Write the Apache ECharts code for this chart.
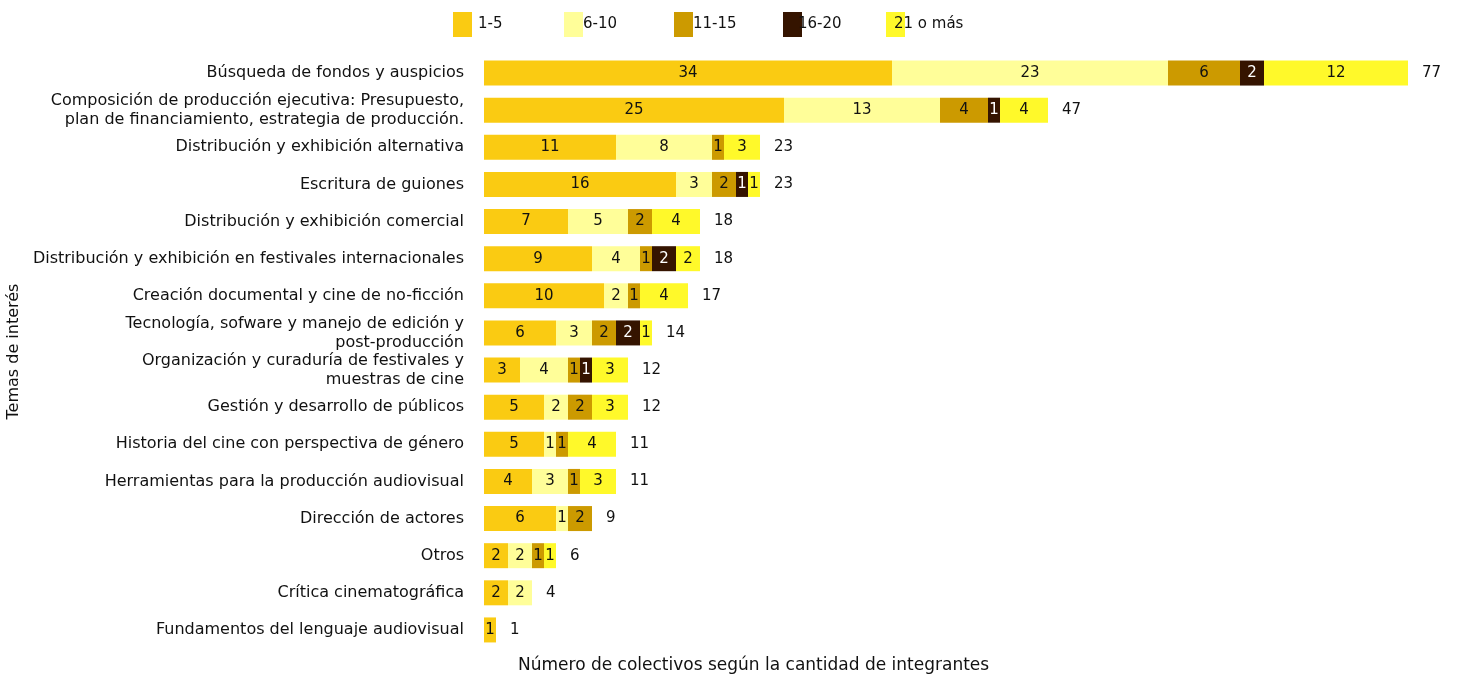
<!DOCTYPE html>
<html>
<head>
<meta charset="utf-8">
<script src="https://cdn.jsdelivr.net/npm/echarts@6/dist/echarts.min.js"></script>
<style>
html,body{margin:0;padding:0;background:#fff;}
#chart{width:1459px;height:674px;}
</style>
</head>
<body>
<div id="chart"></div>
<script>
const categories = [
  "Búsqueda de fondos y auspicios",
  "Composición de producción ejecutiva: Presupuesto,\nplan de financiamiento, estrategia de producción.",
  "Distribución y exhibición alternativa",
  "Escritura de guiones",
  "Distribución y exhibición comercial",
  "Distribución y exhibición en festivales internacionales",
  "Creación documental y cine de no-ficción",
  "Tecnología, sofware y manejo de edición y\npost-producción",
  "Organización y curaduría de festivales y\nmuestras de cine",
  "Gestión y desarrollo de públicos",
  "Historia del cine con perspectiva de género",
  "Herramientas para la producción audiovisual",
  "Dirección de actores",
  "Otros",
  "Crítica cinematográfica",
  "Fundamentos del lenguaje audiovisual"
];
const seriesNames = ["1-5", "6-10", "11-15", "16-20", "21 o más"];
const s1_5   = [34, 25, 11, 16, 7, 9, 10, 6, 3, 5, 5, 4, 6, 2, 2, 1];
const s6_10  = [23, 13, 8, 3, 5, 4, 2, 3, 4, 2, 1, 3, 1, 2, 2, 0];
const s11_15 = [6, 4, 1, 2, 2, 1, 1, 2, 1, 2, 1, 1, 2, 1, 0, 0];
const s16_20 = [2, 1, 0, 1, 0, 2, 0, 2, 1, 0, 0, 0, 0, 0, 0, 0];
const s21    = [12, 4, 3, 1, 4, 2, 4, 1, 3, 3, 4, 3, 0, 1, 0, 0];
const totals = [77, 47, 23, 23, 18, 18, 17, 14, 12, 12, 11, 11, 9, 6, 4, 1];

const colors = ["#FACB12", "#FFFE99", "#CC9A00", "#351400", "#FFF92A"];
const labelColors = ["#111", "#111", "#111", "#fff", "#111"];
const FONT = "DejaVu Sans";
const seriesData = [s1_5, s6_10, s11_15, s16_20, s21];

const series = seriesData.map((arr, i) => ({
  name: seriesNames[i],
  type: 'bar',
  stack: 'total',
  barWidth: 25,
  data: arr.map(v => v === 0 ? null : v),
  itemStyle: { color: colors[i] },
  label: {
    show: true,
    position: 'inside',
    color: labelColors[i],
    fontFamily: FONT,
    fontSize: 15,
    formatter: p => (p.value ? p.value : '')
  }
}));
series.push({
  name: 'Total',
  type: 'scatter',
  data: totals,
  symbolSize: 0,
  itemStyle: { color: '#111', opacity: 1 },
  label: {
    show: true,
    position: 'right',
    distance: 14,
    color: '#111',
    opacity: 1,
    fontFamily: FONT,
    fontSize: 15,
    formatter: p => p.value
  },
  silent: true
});

const legendLeft = [448, 559, 669, 778, 881];
const legendPad = [1, -5, -5, -9, -16];
const legends = seriesNames.map((n, i) => ({
  data: [n],
  left: legendLeft[i],
  top: 7,
  itemWidth: 19,
  itemHeight: 25,
  icon: 'rect',
  selectedMode: false,
  textStyle: { fontFamily: FONT, fontSize: 15, color: '#111', padding: [0, 0, 0, legendPad[i]] }
}));

const chart = echarts.init(document.getElementById('chart'));
chart.setOption({
  animation: false,
  textStyle: { fontFamily: FONT },
  legend: legends,
  grid: { left: 484, right: 15, top: 54.5, bottom: 25.5, containLabel: false, outerBoundsMode: 'none' },
  xAxis: {
    type: 'value',
    min: 0,
    max: 80,
    show: false
  },
  yAxis: {
    type: 'category',
    data: categories,
    inverse: true,
    axisLine: { show: false },
    axisTick: { show: false },
    axisLabel: { color: '#111', fontFamily: FONT, fontSize: 16, margin: 20, align: 'right', lineHeight: 19 },
    name: 'Temas de interés',
    nameLocation: 'middle',
    nameGap: 454,
    nameRotate: 90,
    nameTextStyle: { color: '#111', fontFamily: FONT, fontSize: 16 }
  },
  title: {
    text: 'Número de colectivos según la cantidad de integrantes',
    left: 513,
    top: 652,
    textStyle: { color: '#111', fontFamily: FONT, fontSize: 17, fontWeight: 'normal' }
  },
  series: series
});
</script>
</body>
</html>
